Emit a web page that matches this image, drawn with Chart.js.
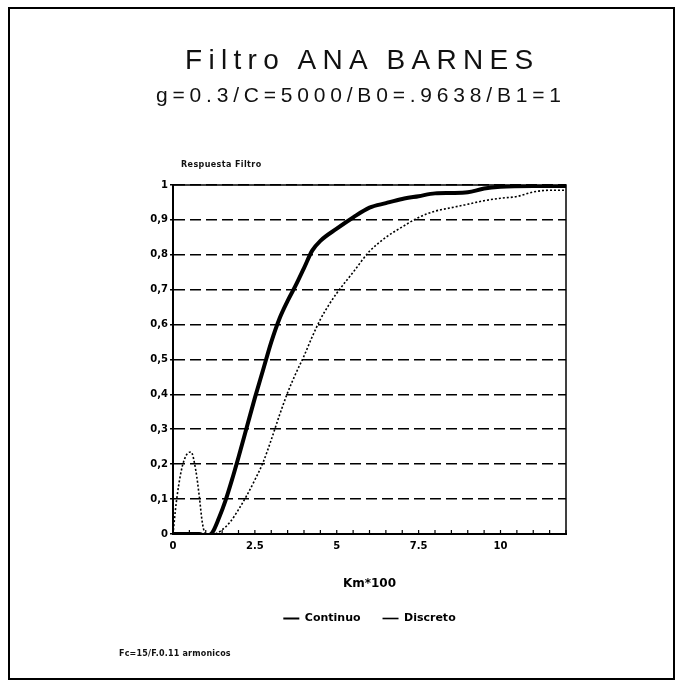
<!DOCTYPE html>
<html lang="es">
<head>
<meta charset="utf-8">
<title>Filtro ANA BARNES</title>
<script src="https://cdn.jsdelivr.net/npm/chart.js@4.4.1/dist/chart.umd.min.js"></script>
<style>
  html, body { margin: 0; padding: 0; background: #fff; }
  #hoja { position: relative; width: 682px; height: 687px; overflow: hidden; }
  #marco { position: absolute; left: 8px; top: 7px; width: 663px; height: 669px; border: 2px solid #000; }
  #grafica { position: absolute; left: 0; top: 0; }
  .texto { position: absolute; white-space: nowrap; color: #111; }
  #titulo { left: 185px; top: 46px; font: 400 28px/28px "Liberation Sans", sans-serif; letter-spacing: 6.3px; }
  #subtitulo { left: 156px; top: 84px; font: 400 21px/21px "Liberation Sans", sans-serif; letter-spacing: 4.8px; }
  #eje-y { left: 181px; top: 161px; font: 700 8px/8px "DejaVu Sans", sans-serif; letter-spacing: 0.4px; }
  #nota { left: 119px; top: 650px; font: 700 8px/8px "DejaVu Sans", sans-serif; letter-spacing: 0.2px; }
</style>
</head>
<body>
<div id="hoja">
  <div id="marco"></div>
  <canvas id="grafica" width="682" height="687"></canvas>
  <div class="texto" id="titulo">Filtro ANA BARNES</div>
  <div class="texto" id="subtitulo">g=0.3/C=5000/B0=.9638/B1=1</div>
  <div class="texto" id="eje-y">Respuesta Filtro</div>
  <div class="texto" id="nota">Fc=15/F.0.11 armonicos</div>
</div>
<script>
// Respuesta continua del filtro (Km*100 -> respuesta)
const continuoX = [0, 0.5, 0.8, 1.0, 1.2, 1.4, 1.6, 1.8, 2.0, 2.25, 2.5, 2.75, 3.0, 3.25, 3.5, 3.75, 4.0, 4.25, 4.5, 5.0, 5.5, 6.0, 6.5, 7.0, 7.5, 8.0, 8.5, 9.0, 9.5, 10, 11, 12];
const continuoY = [0, 0, 0, -0.006, 0.004, 0.045, 0.095, 0.155, 0.22, 0.305, 0.39, 0.47, 0.55, 0.617, 0.668, 0.713, 0.762, 0.812, 0.84, 0.875, 0.907, 0.935, 0.948, 0.96, 0.968, 0.976, 0.977, 0.979, 0.99, 0.995, 0.997, 0.997];

// Respuesta discreta
const discretoX = [0, 0.1, 0.25, 0.4, 0.55, 0.7, 0.8, 0.9, 1.0, 1.25, 1.5, 1.75, 2.0, 2.25, 2.5, 2.75, 3.0, 3.25, 3.5, 3.75, 4.0, 4.25, 4.5, 4.75, 5.0, 5.5, 6.0, 6.5, 7.0, 7.5, 8.0, 8.5, 9.0, 9.5, 10, 10.5, 11, 11.5, 12];
const discretoY = [0, 0.09, 0.18, 0.225, 0.235, 0.18, 0.11, 0.03, 0, 0, 0.012, 0.035, 0.07, 0.11, 0.155, 0.205, 0.27, 0.34, 0.405, 0.46, 0.51, 0.565, 0.615, 0.655, 0.69, 0.75, 0.81, 0.85, 0.88, 0.907, 0.925, 0.935, 0.945, 0.955, 0.962, 0.967, 0.98, 0.985, 0.985];

// Etiquetas de los ejes
const etiquetasX = [0, 2.5, 5, 7.5, 10];
const nombresSeries = ['Continuo', 'Discreto'];

const fuente = '"DejaVu Sans", sans-serif';

function puntos(xs, ys) {
    return xs.map((x, i) => ({ x: x, y: ys[i] }));
}

// Marco del area de la grafica (arriba y derecha)
const marcoArea = {
    id: 'marcoArea',
    beforeDatasetsDraw(chart) {
        const { ctx, chartArea } = chart;
        ctx.save();
        ctx.strokeStyle = '#000';
        ctx.lineWidth = 1.5;
        ctx.strokeRect(chartArea.left, chartArea.top, chartArea.right - chartArea.left, chartArea.bottom - chartArea.top);
        ctx.restore();
    }
};

// Marcas pequeñas hacia dentro sobre el eje X
const marcasX = {
    id: 'marcasX',
    afterDatasetsDraw(chart) {
        const { ctx, chartArea, scales } = chart;
        const x = scales.x;
        ctx.save();
        ctx.strokeStyle = '#000';
        ctx.lineWidth = 1.2;
        x.ticks.forEach(t => {
            const px = x.getPixelForValue(t.value);
            ctx.beginPath();
            ctx.moveTo(px, chartArea.bottom);
            ctx.lineTo(px, chartArea.bottom - 4);
            ctx.stroke();
        });
        ctx.restore();
    }
};

const ctx = document.getElementById('grafica').getContext('2d');

new Chart(ctx, {
    type: 'line',
    data: {
        datasets: [
            {
                label: nombresSeries[0],
                data: puntos(continuoX, continuoY),
                borderColor: '#000',
                borderWidth: 4,
                pointRadius: 0,
                fill: false,
                cubicInterpolationMode: 'monotone',
            },
            {
                label: nombresSeries[1],
                data: puntos(discretoX, discretoY),
                borderColor: '#000',
                borderWidth: 1.6,
                borderDash: [2, 2],
                pointRadius: 0,
                fill: false,
                cubicInterpolationMode: 'monotone',
            },
        ],
    },
    options: {
        responsive: false,
        animation: false,
        layout: {
            padding: { left: 133, right: 116, top: 185, bottom: 53 },
        },
        scales: {
            x: {
                type: 'linear',
                min: 0,
                max: 12,
                afterFit: scale => { scale.height = 57; },
                ticks: {
                    stepSize: 0.5,
                    autoSkip: false,
                    maxRotation: 0,
                    padding: 6,
                    color: '#000',
                    font: { family: fuente, size: 10, weight: 'bold' },
                    callback: v => (etiquetasX.includes(v) ? String(v) : ''),
                },
                grid: { drawOnChartArea: false, drawTicks: false },
                border: { display: true, color: '#000', width: 2 },
                title: {
                    display: true,
                    text: 'Km*100',
                    color: '#000',
                    padding: { top: 0, bottom: 0 },
                    font: { family: fuente, size: 12, weight: 'bold' },
                },
            },
            y: {
                min: 0,
                max: 1,
                afterFit: scale => { scale.width = 40; },
                ticks: {
                    stepSize: 0.1,
                    padding: 2,
                    color: '#000',
                    font: { family: fuente, size: 10, weight: 'bold' },
                    callback: v => {
                        if (Math.abs(v) < 1e-9) return '0';
                        if (Math.abs(v - 1) < 1e-9) return '1';
                        return v.toFixed(1).replace('.', ',');
                    },
                },
                grid: { color: '#000', lineWidth: 1.6, tickLength: 3, tickColor: '#000' },
                border: { display: true, color: '#000', width: 2, dash: [11, 5] },
            },
        },
        plugins: {
            legend: {
                position: 'bottom',
                fullSize: false,
                labels: {
                    usePointStyle: true,
                    pointStyle: 'line',
                    pointStyleWidth: 16,
                    padding: 22,
                    color: '#000',
                    font: { family: fuente, size: 11, weight: 'bold' },
                    generateLabels(chart) {
                        const items = Chart.defaults.plugins.legend.labels.generateLabels(chart);
                        items.forEach(it => { it.lineWidth = Math.min(it.lineWidth, 2); });
                        return items;
                    },
                },
            },
            tooltip: { enabled: false },
        },
    },
    plugins: [marcoArea, marcasX],
});
</script>
</body>
</html>
